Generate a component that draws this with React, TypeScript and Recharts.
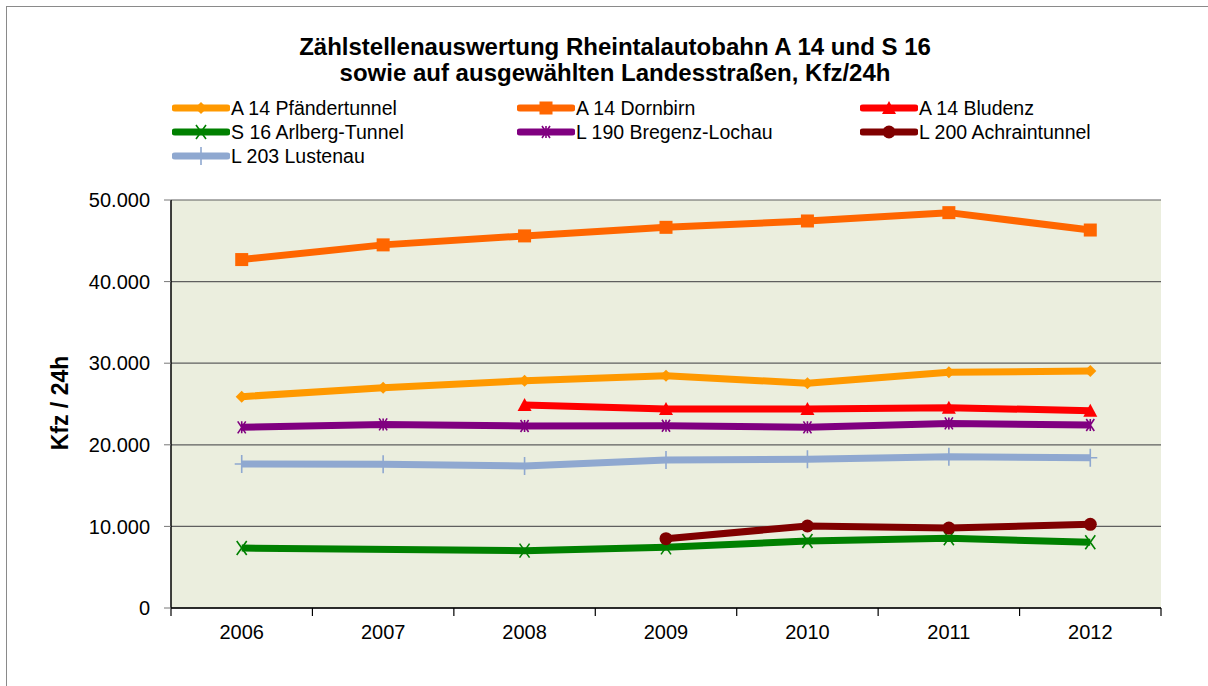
import React from 'react';
import { LineChart, Line, XAxis, YAxis, CartesianGrid } from 'recharts';

const years = [2006, 2007, 2008, 2009, 2010, 2011, 2012];
const yearEdges = [2005.5, 2006.5, 2007.5, 2008.5, 2009.5, 2010.5, 2011.5, 2012.5];
const yTicks = [0, 10000, 20000, 30000, 40000, 50000];

const pfaendertunnel = [25900, 27000, 27850, 28450, 27550, 28900, 29030];
const dornbirn = [42700, 44500, 45600, 46650, 47430, 48450, 46320];
const bludenz = [null, null, 24880, 24390, 24390, 24550, 24180];
const arlberg = [7350, null, 7030, 7430, 8210, 8540, 8050];
const lochau = [22140, 22500, 22300, 22340, 22140, 22620, 22430];
const achrain = [null, null, null, 8500, 10050, 9800, 10250];
const lustenau = [17650, 17610, 17400, 18140, 18220, 18550, 18420];

type Shape = 'diamond' | 'square' | 'triangle' | 'x' | 'star' | 'circle' | 'plus';

const series: { key: string; name: string; color: string; shape: Shape; values: (number | null)[] }[] = [
  { key: 'pf', name: 'A 14 Pfändertunnel', color: '#FF9900', shape: 'diamond', values: pfaendertunnel },
  { key: 'do', name: 'A 14 Dornbirn', color: '#FF6600', shape: 'square', values: dornbirn },
  { key: 'bl', name: 'A 14 Bludenz', color: '#FF0000', shape: 'triangle', values: bludenz },
  { key: 'ar', name: 'S 16 Arlberg-Tunnel', color: '#008000', shape: 'x', values: arlberg },
  { key: 'lo', name: 'L 190 Bregenz-Lochau', color: '#800080', shape: 'star', values: lochau },
  { key: 'ac', name: 'L 200 Achraintunnel', color: '#800000', shape: 'circle', values: achrain },
  { key: 'lu', name: 'L 203 Lustenau', color: '#8FA8D0', shape: 'plus', values: lustenau },
];

const data = years.map((year, i) => {
  const row: Record<string, number | null> = { year };
  series.forEach((s) => {
    row[s.key] = s.values[i];
  });
  return row;
});

const FONT = '"Liberation Sans", Arial, sans-serif';

const fmt = (v: number) => String(v).replace(/\B(?=(\d{3})+(?!\d))/g, '.');

function marker(shape: Shape, cx: number, cy: number, color: string) {
  switch (shape) {
    case 'diamond':
      return <path d={`M${cx},${cy - 6} L${cx + 6},${cy} L${cx},${cy + 6} L${cx - 6},${cy} Z`} fill={color} />;
    case 'square':
      return <rect x={cx - 6.5} y={cy - 6.5} width={13} height={13} fill={color} />;
    case 'triangle':
      return <path d={`M${cx},${cy - 7} L${cx + 7},${cy + 6} L${cx - 7},${cy + 6} Z`} fill={color} />;
    case 'x':
      return (
        <path
          d={`M${cx - 5},${cy - 7} L${cx + 5},${cy + 7} M${cx + 5},${cy - 7} L${cx - 5},${cy + 7}`}
          stroke={color}
          strokeWidth={1.6}
        />
      );
    case 'star':
      return (
        <path
          d={`M${cx - 4},${cy - 6} L${cx + 4},${cy + 6} M${cx + 4},${cy - 6} L${cx - 4},${cy + 6} M${cx},${cy - 6} L${cx},${cy + 6}`}
          stroke={color}
          strokeWidth={1.6}
        />
      );
    case 'circle':
      return <circle cx={cx} cy={cy} r={6.5} fill={color} />;
    case 'plus':
      return (
        <path d={`M${cx},${cy - 9} L${cx},${cy + 9} M${cx - 7},${cy} L${cx + 7},${cy}`} stroke={color} strokeWidth={1.6} />
      );
  }
}

const makeDot = (shape: Shape, color: string) => (props: any) => {
  const { cx, cy, index } = props;
  if (cx == null || cy == null || props.value == null) return <g key={`e-${index}`} />;
  return <g key={`d-${index}`}>{marker(shape, cx, cy, color)}</g>;
};

// empty tick label for the boundary tick axis
const NoLabel = () => <g />;

const legendCols = [172, 517, 860];
const legendRows = [108, 132, 156];

const App: React.FC = () => {
  return (
    <div
      style={{
        position: 'fixed',
        left: 0,
        top: 0,
        width: 1208,
        height: 686,
        overflow: 'hidden',
        background: '#fff',
        fontFamily: FONT,
        color: '#000',
      }}
    >
      <div
        style={{
          position: 'absolute',
          left: 6,
          top: 6,
          width: 1230,
          height: 700,
          border: '1.5px solid #8a8a8a',
        }}
      />
      <div
        style={{
          position: 'absolute',
          left: 0,
          top: 34,
          width: 1230,
          textAlign: 'center',
          fontSize: 24,
          fontWeight: 'bold',
          lineHeight: '26px',
        }}
      >
        Zählstellenauswertung Rheintalautobahn A 14 und S 16
        <br />
        sowie auf ausgewählten Landesstraßen, Kfz/24h
      </div>

      {series.map((s, i) => {
        const x = legendCols[i % 3];
        const y = legendRows[Math.floor(i / 3)];
        return (
          <div
            key={s.key}
            style={{ position: 'absolute', left: x, top: y - 12, height: 24, display: 'flex', alignItems: 'center' }}
          >
            <svg width={58} height={24}>
              <line x1={3} y1={12} x2={55} y2={12} stroke={s.color} strokeWidth={7} strokeLinecap="round" />
              {marker(s.shape, 29, 12, s.color)}
            </svg>
            <span style={{ fontSize: 19.5, whiteSpace: 'nowrap', marginLeft: 1 }}>{s.name}</span>
          </div>
        );
      })}

      <div
        style={{
          position: 'absolute',
          left: 60,
          top: 403,
          transform: 'translate(-50%, -50%) rotate(-90deg)',
          fontSize: 23,
          fontWeight: 'bold',
          whiteSpace: 'nowrap',
        }}
      >
        Kfz / 24h
      </div>

      <div style={{ position: 'absolute', left: 0, top: 0 }}>
        <LineChart width={1208} height={686} data={data} margin={{ top: 200, right: 47, left: 91, bottom: 38 }}>
          <CartesianGrid vertical={false} fill="#EBEEDE" stroke="#5f5f5f" strokeWidth={1.2} />
          <XAxis
            dataKey="year"
            type="number"
            domain={[2005.5, 2012.5]}
            ticks={yearEdges}
            tick={NoLabel}
            tickLine={{ stroke: '#000', strokeWidth: 1.2 }}
            tickSize={8}
            axisLine={{ stroke: '#000', strokeWidth: 1.5 }}
            height={8}
            allowDataOverflow
          />
          <XAxis
            xAxisId="labels"
            dataKey="year"
            type="number"
            domain={[2005.5, 2012.5]}
            ticks={years}
            tickLine={false}
            tickSize={0}
            tickMargin={9}
            axisLine={false}
            tick={{ fontSize: 20, fill: '#000', fontFamily: FONT }}
            height={32}
            allowDataOverflow
          />
          <YAxis
            domain={[0, 50000]}
            ticks={yTicks}
            tickFormatter={fmt}
            width={80}
            tickSize={7}
            tickMargin={14}
            tickLine={{ stroke: '#777' }}
            axisLine={{ stroke: '#000', strokeWidth: 1.5 }}
            tick={{ fontSize: 20, fill: '#000', fontFamily: FONT }}
          />
          <YAxis
            yAxisId="r"
            orientation="right"
            domain={[0, 50000]}
            width={0}
            tick={false}
            tickLine={false}
            axisLine={{ stroke: '#666', strokeWidth: 1.2 }}
          />
          {series.map((s) => (
            <Line
              key={s.key}
              dataKey={s.key}
              name={s.name}
              stroke={s.color}
              strokeWidth={7}
              strokeLinejoin="round"
              dot={makeDot(s.shape, s.color)}
              activeDot={false}
              connectNulls={s.key === 'ar'}
              isAnimationActive={false}
            />
          ))}
        </LineChart>
      </div>
    </div>
  );
};

export default App;
